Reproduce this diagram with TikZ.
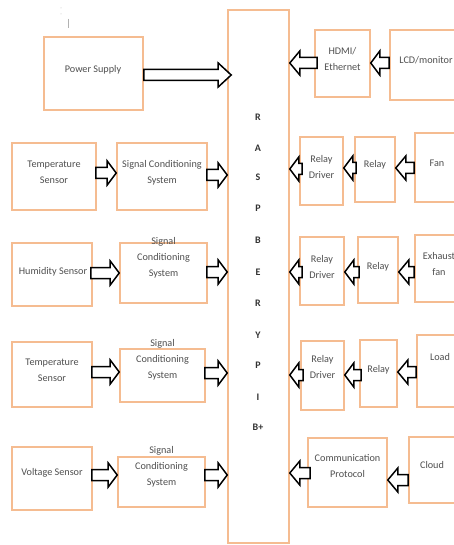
\documentclass[tikz,border=0pt]{standalone}
\usepackage{fontspec}
\setmainfont{Carlito}
\usetikzlibrary{calc}
\definecolor{boxor}{RGB}{245,188,145}
\definecolor{txtg}{RGB}{80,80,80}
\tikzset{
  bx/.style={draw=boxor, line width=1.6pt, fill=white, inner sep=0pt},
  txt/.style={text=txtg, font=\fontsize{10.2}{16}\selectfont, align=center, inner sep=0pt},
  pil/.style={text=black!80, font=\fontsize{10}{12}\selectfont\bfseries, inner sep=0pt},
  blkarrow/.style={draw=black, fill=white, line width=1.5pt, line join=miter}
}
% #1 y offset (down), #2 from, #3 to, #4 signed head length, #5 source x shift
\newcommand{\blk}[5][0]{%
  \draw[blkarrow] let \p1=([yshift=-#1pt,xshift=#5pt]#2), \p2=(#3) in
    (\x1,{\y1+5.5pt}) -- ({\x2-(#4pt)},{\y1+5.5pt}) -- ({\x2-(#4pt)},{\y1+12pt})
    -- (\x2,\y1) -- ({\x2-(#4pt)},{\y1-12pt}) -- ({\x2-(#4pt)},{\y1-5.5pt})
    -- (\x1,{\y1-5.5pt}) -- cycle;}
\begin{document}
\begin{tikzpicture}[x=1pt,y=-1pt]
\fill[white] (0,0) rectangle (454,545);
\clip (0,0) rectangle (454,545);
\useasboundingbox (0,0) rectangle (454,545);
% tiny marks
\fill[gray!50] (61,8) circle (0.5) (61,14) circle (0.5);
\draw[gray!60, line width=0.6pt] (68,19) -- (68,28);
% boxes
\node[bx, minimum width=61, minimum height=533] (pi) at (258.5,276.5) {};
\node[bx, minimum width=99, minimum height=73] (ps) at (93.5,73.5) {};
\node[bx, minimum width=55, minimum height=67] (hdmi) at (342.5,63.5) {};
\node[bx, minimum width=72, minimum height=70] (lcd) at (426,65) {};
\node[bx, minimum width=84, minimum height=67] (t1) at (54,176.5) {};
\node[bx, minimum width=90, minimum height=67] (s1) at (162,176.5) {};
\node[bx, minimum width=80, minimum height=63] (hum) at (52,274.5) {};
\node[bx, minimum width=87, minimum height=60] (s2) at (163.5,273) {};
\node[bx, minimum width=80, minimum height=65] (t2) at (52,374.5) {};
\node[bx, minimum width=85, minimum height=53] (s3) at (162.5,375.5) {};
\node[bx, minimum width=80, minimum height=63] (v) at (52,478.5) {};
\node[bx, minimum width=87, minimum height=50] (s4) at (161.5,482) {};
\node[bx, minimum width=43, minimum height=68] (rd1) at (321.5,171) {};
\node[bx, minimum width=40, minimum height=65] (r1) at (375,169.5) {};
\node[bx, minimum width=46, minimum height=69] (fan) at (438,167.5) {};
\node[bx, minimum width=44, minimum height=68] (rd2) at (322,271) {};
\node[bx, minimum width=40, minimum height=66] (r2) at (378,270) {};
\node[bx, minimum width=46, minimum height=67] (ex) at (438,268.5) {};
\node[bx, minimum width=43, minimum height=69] (rd3) at (322.5,375.5) {};
\node[bx, minimum width=37, minimum height=67] (r3) at (378.5,373.5) {};
\node[bx, minimum width=46, minimum height=72] (load) at (440,371) {};
\node[bx, minimum width=79, minimum height=69] (cp) at (347.5,472.5) {};
\node[bx, minimum width=46, minimum height=66] (cloud) at (432,470) {};
% texts
\node[txt] (pst) at (93,70) {Power Supply};
\node[txt] (hdmit) at (342.5,58.5) {HDMI/\\Ethernet};
\node[txt] (lcdt) at (426,60) {LCD/monitor};
\node[txt] (t1t) at (54,172.5) {Temperature\\Sensor};
\node[txt] (s1t) at (162,172.5) {Signal Conditioning\\System};
\node[txt] (humt) at (53,272) {Humidity Sensor};
\node[txt] (s2t) at (163.5,258) {Signal\\Conditioning\\System};
\node[txt] (t2t) at (52,370.5) {Temperature\\Sensor};
\node[txt] (s3t) at (162.5,359.5) {Signal\\Conditioning\\System};
\node[txt] (vt) at (52,473) {Voltage Sensor};
\node[txt] (s4t) at (161.5,467) {Signal\\Conditioning\\System};
\node[txt] (rd1t) at (321.5,166.5) {Relay\\Driver};
\node[txt] (r1t) at (375,165) {Relay};
\node[txt] (fant) at (437,163) {Fan};
\node[txt] (rd2t) at (322,266.5) {Relay\\Driver};
\node[txt] (r2t) at (378,267) {Relay};
\node[txt] (ext) at (439,264) {Exhaust\\fan};
\node[txt] (rd3t) at (322.5,366.5) {Relay\\Driver};
\node[txt] (r3t) at (378.5,370) {Relay};
\node[txt] (loadt) at (440,357) {Load};
\node[txt] (cpt) at (347.5,466.5) {Communication\\Protocol};
\node[txt] (cloudt) at (432,465) {Cloud};
% Raspberry Pi letters
\node[pil] (l1) at (258,117) {R};
\node[pil] (l2) at (258,148) {A};
\node[pil] (l3) at (258,177) {S};
\node[pil] (l4) at (258,208) {P};
\node[pil] (l5) at (258,240) {B};
\node[pil] (l6) at (258,272) {E};
\node[pil] (l7) at (258,303) {R};
\node[pil] (l8) at (258,335) {Y};
\node[pil] (l9) at (258,365) {P};
\node[pil] (l10) at (258,397) {I};
\node[pil] (l11) at (258,427) {B+};
% arrows
\blk[1.5]{ps.east}{[xshift=4pt]pi.west}{13}{0}
\blk[-0.5]{hdmi.west}{pi.east}{-10}{3}
\blk[-2]{lcd.west}{hdmi.east}{-9}{0}
\blk[-3.5]{t1.east}{s1.west}{9}{-1}
\blk[-1.5]{s1.east}{pi.west}{9}{-1}
\blk[-1.5]{hum.east}{s2.west}{9}{-2}
\blk[-1]{s2.east}{pi.west}{9}{-1}
\blk[-2.5]{t2.east}{s3.west}{9}{-1}
\blk[-2.5]{s3.east}{pi.west}{9}{-1}
\blk[-3.5]{v.east}{s4.west}{9}{-1}
\blk[-7]{s4.east}{pi.west}{9}{-1}
\blk[-2]{rd1.west}{pi.east}{-9}{3}
\blk[-1.5]{r1.west}{rd1.east}{-9}{2}
\blk[0.5]{fan.west}{r1.east}{-10}{0}
\blk[1]{rd2.west}{pi.east}{-9}{3}
\blk[2]{r2.west}{rd2.east}{-9}{2}
\blk[3.5]{ex.west}{r2.east}{-10}{0}
\blk[-0.5]{rd3.west}{pi.east}{-9}{3}
\blk[1.5]{r3.west}{rd3.east}{-9}{2}
\blk[1]{load.west}{r3.east}{-10}{0}
\blk[0.5]{cp.west}{pi.east}{-10}{3}
\blk[10]{cloud.west}{cp.east}{-10}{0}
\end{tikzpicture}
\end{document}
